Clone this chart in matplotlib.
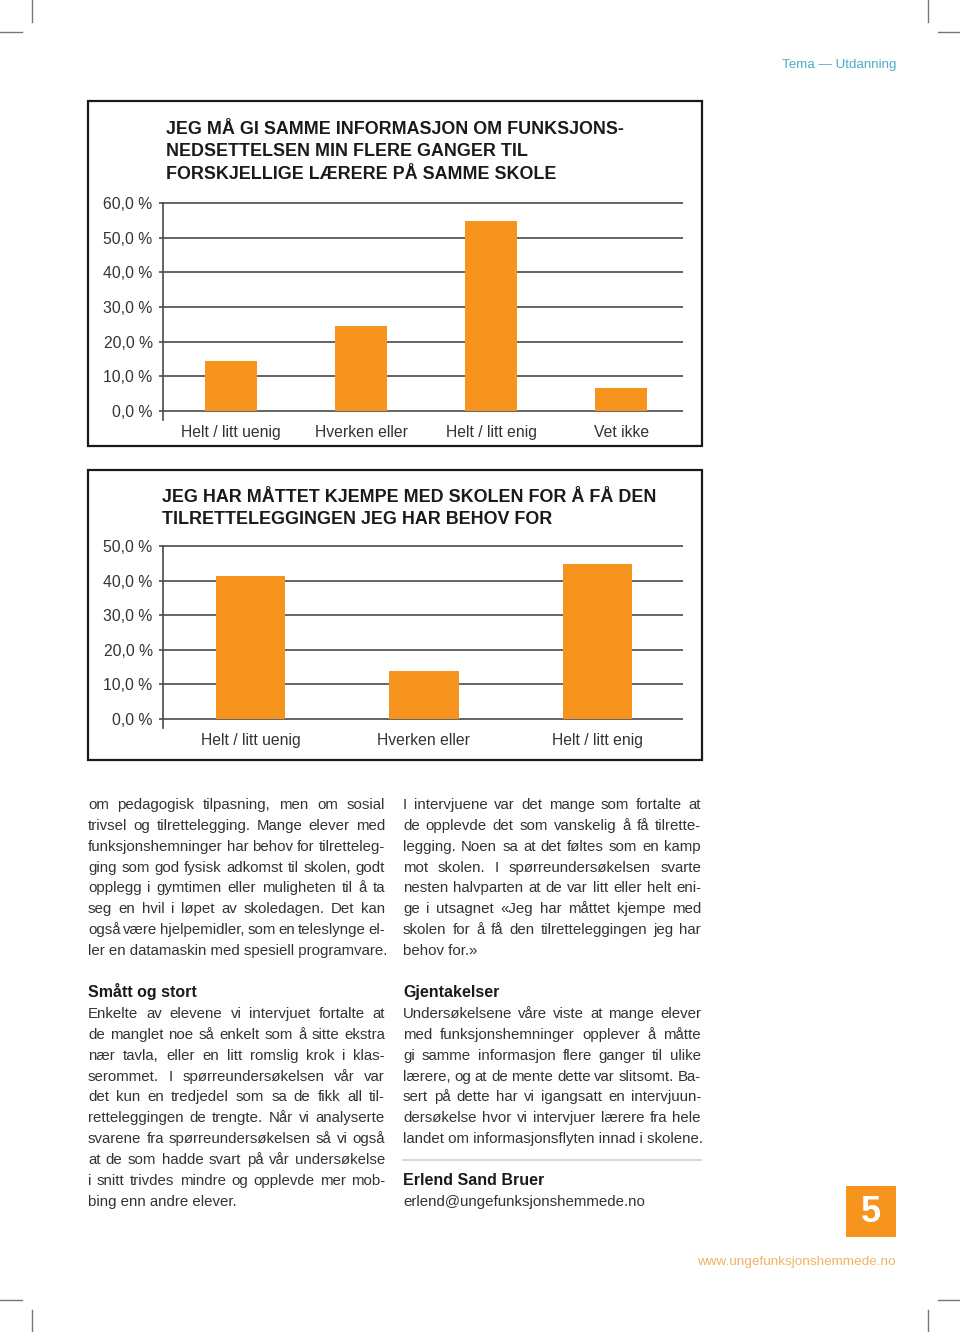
import matplotlib
matplotlib.use("Agg")
import matplotlib.pyplot as plt
from matplotlib.font_manager import FontProperties
from matplotlib.patches import Rectangle

# ---- chart data -----------------------------------------------------------
cats1 = ["Helt / litt uenig", "Hverken eller", "Helt / litt enig", "Vet ikke"]
vals1 = [14.4, 24.6, 54.7, 6.6]
ticks1 = [0, 10, 20, 30, 40, 50, 60]
title1 = ["JEG MÅ GI SAMME INFORMASJON OM FUNKSJONS-",
          "NEDSETTELSEN MIN FLERE GANGER TIL",
          "FORSKJELLIGE LÆRERE PÅ SAMME SKOLE"]

cats2 = ["Helt / litt uenig", "Hverken eller", "Helt / litt enig"]
vals2 = [41.2, 14.0, 44.9]
ticks2 = [0, 10, 20, 30, 40, 50]
title2 = ["JEG HAR MÅTTET KJEMPE MED SKOLEN FOR Å FÅ DEN",
          "TILRETTELEGGINGEN JEG HAR BEHOV FOR"]

# ---- body text ------------------------------------------------------------
left_par = ["om pedagogisk tilpasning, men om sosial",
            "trivsel og tilrettelegging. Mange elever med",
            "funksjonshemninger har behov for tilretteleg-",
            "ging som god fysisk adkomst til skolen, godt",
            "opplegg i gymtimen eller muligheten til å ta",
            "seg en hvil i løpet av skoledagen. Det kan",
            "også være hjelpemidler, som en teleslynge el-",
            "ler en datamaskin med spesiell programvare."]
left_head = "Smått og stort"
left_par2 = ["Enkelte av elevene vi intervjuet fortalte at",
             "de manglet noe så enkelt som å sitte ekstra",
             "nær tavla, eller en litt romslig krok i klas-",
             "serommet. I spørreundersøkelsen vår var",
             "det kun en tredjedel som sa de fikk all til-",
             "retteleggingen de trengte. Når vi analyserte",
             "svarene fra spørreundersøkelsen så vi også",
             "at de som hadde svart på vår undersøkelse",
             "i snitt trivdes mindre og opplevde mer mob-",
             "bing enn andre elever."]
right_par = ["I intervjuene var det mange som fortalte at",
             "de opplevde det som vanskelig å få tilrette-",
             "legging. Noen sa at det føltes som en kamp",
             "mot skolen. I spørreundersøkelsen svarte",
             "nesten halvparten at de var litt eller helt eni-",
             "ge i utsagnet «Jeg har måttet kjempe med",
             "skolen for å få den tilretteleggingen jeg har",
             "behov for.»"]
right_head = "Gjentakelser"
right_par2 = ["Undersøkelsene våre viste at mange elever",
              "med funksjonshemninger opplever å måtte",
              "gi samme informasjon flere ganger til ulike",
              "lærere, og at de mente dette var slitsomt. Ba-",
              "sert på dette har vi igangsatt en intervjuun-",
              "dersøkelse hvor vi intervjuer lærere fra hele",
              "landet om informasjonsflyten innad i skolene."]
author = "Erlend Sand Bruer"
email = "erlend@ungefunksjonshemmede.no"

ORANGE = "#F7941D"
GRID = "#4a4a4a"
BODY = "#333333"
FONT = "Liberation Sans"
W, H = 960, 1332

fig = plt.figure(figsize=(W / 100, H / 100), dpi=100)
page = fig.add_axes([0, 0, 1, 1])
page.set_xlim(0, W)
page.set_ylim(H, 0)
page.axis("off")
renderer = fig.canvas.get_renderer()

body_fp = FontProperties(family=FONT, size=10.8)
bold_fp = FontProperties(family=FONT, size=11.5, weight="bold")


def add_chart(box, top_px, zero_px, ymax, cats, vals, ticks, title, title_x, title_y, xpad):
    # frame round the chart
    x0, y0, x1, y1 = box
    page.add_patch(Rectangle((x0, y0), x1 - x0, y1 - y0, fill=False,
                             edgecolor="#1a1a1a", linewidth=1.6))
    for i, line in enumerate(title):
        page.text(title_x, title_y + i * 22.5, line, fontsize=12.9, weight="bold",
                  family=FONT, color="#1a1a1a", va="baseline")

    scale = (zero_px - top_px) / ymax
    ylo, yhi = -2.5, ymax + 0.5
    left, right = 163, 683
    top = zero_px - yhi * scale
    bottom = zero_px - ylo * scale
    ax = fig.add_axes([left / W, 1 - bottom / H, (right - left) / W, (bottom - top) / H])
    ax.patch.set_alpha(0)
    n = len(cats)
    ax.bar(range(n), vals, width=0.4, color=ORANGE, zorder=3)
    ax.set_xlim(-0.5 + xpad, n - 0.5 + xpad)
    ax.set_ylim(ylo, yhi)
    ax.set_yticks(ticks)
    ax.set_yticklabels([f"{t:.1f} %".replace(".", ",") for t in ticks],
                       fontsize=11.3, family=FONT, color="#333333")
    ax.set_xticks(range(n))
    ax.set_xticklabels(cats, fontsize=11.3, family=FONT, color="#333333")
    ax.tick_params(axis="x", length=0, pad=4)
    ax.tick_params(axis="y", length=3, width=1.2, color=GRID, pad=4.5)
    ax.grid(axis="y", color=GRID, linewidth=1.2)
    ax.set_axisbelow(True)
    for s in ["top", "right", "bottom"]:
        ax.spines[s].set_visible(False)
    ax.spines["left"].set_color(GRID)
    ax.spines["left"].set_linewidth(1.2)
    ax.spines["left"].set_bounds(ylo, ticks[-1])
    return ax


add_chart((88, 101, 702, 446), 203, 411, 60, cats1, vals1, ticks1,
          title1, 166, 134, -0.025)
add_chart((88, 470, 702, 760), 546, 719, 50, cats2, vals2, ticks2,
          title2, 162, 502, -0.005)


def width_of(s, fp):
    return renderer.get_text_width_height_descent(s, fp, ismath=False)[0]


def justified(lines, x0, x1, y_first, step=20.85, last_free=True):
    for i, line in enumerate(lines):
        y = y_first + i * step
        words = line.split(" ")
        if (last_free and i == len(lines) - 1) or len(words) == 1:
            page.text(x0, y, line, fontproperties=body_fp, color=BODY, va="baseline")
            continue
        widths = [width_of(w, body_fp) for w in words]
        gap = (x1 - x0 - sum(widths)) / (len(words) - 1)
        x = x0
        for w, wd in zip(words, widths):
            page.text(x, y, w, fontproperties=body_fp, color=BODY, va="baseline")
            x += wd + gap


BASE = 5  # offset from x-height centre to baseline
justified(left_par, 88, 385, 804 + BASE)
page.text(88, 992 + BASE, left_head, fontproperties=bold_fp, color="#1a1a1a", va="baseline")
justified(left_par2, 88, 385, 1013 + BASE)
justified(right_par, 403, 701, 804 + BASE)
page.text(403, 992 + BASE, right_head, fontproperties=bold_fp, color="#1a1a1a", va="baseline")
justified(right_par2, 403, 701, 1013 + BASE)
page.plot([403, 701], [1160, 1160], color="#d9d9d9", linewidth=1.5)
page.text(403, 1180 + BASE, author, fontproperties=bold_fp, color="#1a1a1a", va="baseline")
page.text(403, 1201 + BASE, email, fontproperties=body_fp, color=BODY, va="baseline")

# header / footer
page.text(896, 65, "Tema — Utdanning", fontsize=9.6, family=FONT, color="#4aaec6",
          ha="right", va="center")
page.add_patch(Rectangle((846, 1186), 50, 51, color=ORANGE, linewidth=0))
page.text(871, 1212, "5", fontsize=26, weight="bold", family=FONT, color="white",
          ha="center", va="center")
page.text(896, 1262, "www.ungefunksjonshemmede.no", fontsize=9.7, family=FONT,
          color="#f0b466", ha="right", va="center")

# crop marks
mark = dict(color="#777777", linewidth=1)
page.plot([32, 32], [0, 22], **mark)
page.plot([0, 22], [32, 32], **mark)
page.plot([928, 928], [0, 22], **mark)
page.plot([938, 960], [32, 32], **mark)
page.plot([32, 32], [1310, 1332], **mark)
page.plot([0, 22], [1300, 1300], **mark)
page.plot([928, 928], [1310, 1332], **mark)
page.plot([938, 960], [1300, 1300], **mark)

fig.savefig("out.png", dpi=100)
